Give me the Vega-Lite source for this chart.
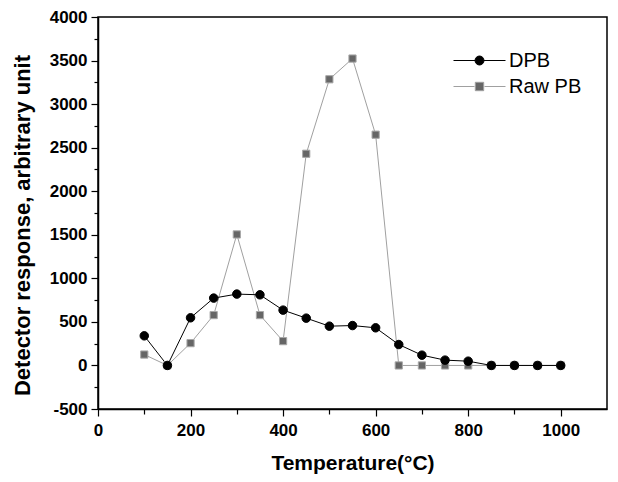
{
  "$schema": "https://vega.github.io/schema/vega-lite/v6.json",
  "width": 509,
  "height": 392,
  "autosize": {"type": "none"},
  "padding": {"left": 98, "top": 17, "right": 11, "bottom": 73},
  "background": "white",
  "config": {
    "view": {"stroke": "black", "strokeWidth": 1.5},
    "font": "Liberation Sans",
    "axis": {
      "domainColor": "black",
      "domainWidth": 1.5,
      "tickColor": "black",
      "tickWidth": 1.2,
      "grid": false,
      "labelFont": "Liberation Sans",
      "labelFontWeight": "bold",
      "labelFontSize": 17,
      "labelColor": "black",
      "titleFont": "Liberation Sans",
      "titleFontWeight": "bold",
      "titleFontSize": 21,
      "titleColor": "black"
    }
  },
  "data": {
    "values": [
      {"t": 100, "v": 125, "s": "Raw PB"},
      {"t": 150, "v": 0, "s": "Raw PB"},
      {"t": 200, "v": 256, "s": "Raw PB"},
      {"t": 250, "v": 578, "s": "Raw PB"},
      {"t": 300, "v": 1504, "s": "Raw PB"},
      {"t": 350, "v": 578, "s": "Raw PB"},
      {"t": 400, "v": 279, "s": "Raw PB"},
      {"t": 450, "v": 2430, "s": "Raw PB"},
      {"t": 500, "v": 3285, "s": "Raw PB"},
      {"t": 550, "v": 3523, "s": "Raw PB"},
      {"t": 600, "v": 2649, "s": "Raw PB"},
      {"t": 650, "v": 0, "s": "Raw PB"},
      {"t": 700, "v": 0, "s": "Raw PB"},
      {"t": 750, "v": 0, "s": "Raw PB"},
      {"t": 800, "v": 0, "s": "Raw PB"},
      {"t": 850, "v": 0, "s": "Raw PB"},
      {"t": 900, "v": 0, "s": "Raw PB"},
      {"t": 950, "v": 0, "s": "Raw PB"},
      {"t": 1000, "v": 0, "s": "Raw PB"},
      {"t": 100, "v": 340, "s": "DPB"},
      {"t": 150, "v": 0, "s": "DPB"},
      {"t": 200, "v": 547, "s": "DPB"},
      {"t": 250, "v": 773, "s": "DPB"},
      {"t": 300, "v": 819, "s": "DPB"},
      {"t": 350, "v": 811, "s": "DPB"},
      {"t": 400, "v": 635, "s": "DPB"},
      {"t": 450, "v": 543, "s": "DPB"},
      {"t": 500, "v": 451, "s": "DPB"},
      {"t": 550, "v": 458, "s": "DPB"},
      {"t": 600, "v": 432, "s": "DPB"},
      {"t": 650, "v": 240, "s": "DPB"},
      {"t": 700, "v": 118, "s": "DPB"},
      {"t": 750, "v": 61, "s": "DPB"},
      {"t": 800, "v": 49, "s": "DPB"},
      {"t": 850, "v": 0, "s": "DPB"},
      {"t": 900, "v": 0, "s": "DPB"},
      {"t": 950, "v": 0, "s": "DPB"},
      {"t": 1000, "v": 0, "s": "DPB"}
    ]
  },
  "encoding": {
    "x": {
      "field": "t",
      "type": "quantitative",
      "scale": {"domain": [0, 1100], "nice": false},
      "axis": {
        "title": "Temperature(°C)",
        "values": [0, 100, 200, 300, 400, 500, 600, 700, 800, 900, 1000],
        "labelExpr": "datum.value % 200 === 0 ? datum.value + '' : ''",
        "tickSize": {"condition": {"test": "datum.value % 200 === 0", "value": 7}, "value": 5},
        "labelPadding": 6,
        "titlePadding": 14,
        "labelFlush": false,
        "labelOverlap": false
      }
    },
    "y": {
      "field": "v",
      "type": "quantitative",
      "scale": {"domain": [-500, 4000], "nice": false, "zero": false},
      "axis": {
        "title": "Detector response, arbitrary unit",
        "titleFontSize": 22,
        "values": [-500, -250, 0, 250, 500, 750, 1000, 1250, 1500, 1750, 2000, 2250, 2500, 2750, 3000, 3250, 3500, 3750, 4000],
        "labelExpr": "datum.value % 500 === 0 ? datum.value + '' : ''",
        "tickSize": {"condition": {"test": "datum.value % 500 === 0", "value": 7}, "value": 4},
        "labelPadding": 4,
        "titlePadding": 15,
        "titleY": 208,
        "labelFlush": false,
        "labelOverlap": false
      }
    }
  },
  "layer": [
    {
      "mark": {"type": "point", "filled": true, "opacity": 0, "strokeWidth": 1},
      "encoding": {
        "shape": {
          "field": "s", "type": "nominal",
          "scale": {"domain": ["DPB", "Raw PB"], "range": [
            "M-2.6,0L-0.45,0M0.45,0L2.6,0M-0.45,0A0.45,0.45,0,1,0,0.45,0A0.45,0.45,0,1,0,-0.45,0Z",
            "M-2.6,0L-0.5,0M0.5,0L2.6,0M-0.42,-0.42L0.42,-0.42L0.42,0.42L-0.42,0.42Z"
          ]},
          "legend": {
            "title": null,
            "orient": "none",
            "legendX": 371,
            "legendY": 33,
            "padding": 0,
            "symbolSize": 400,
            "symbolStrokeWidth": 1,
            "symbolOpacity": 1,
            "labelFontSize": 20,
            "labelFont": "Liberation Sans",
            "labelColor": "black",
            "labelOffset": 19,
            "rowPadding": 5
          }
        },
        "fill": {"field": "s", "type": "nominal", "scale": {"domain": ["DPB", "Raw PB"], "range": ["#000000", "#666666"]}},
        "stroke": {"field": "s", "type": "nominal", "scale": {"domain": ["DPB", "Raw PB"], "range": ["#000000", "#a0a0a0"]}}
      }
    },
    {
      "mark": {"type": "line", "strokeWidth": 1},
      "encoding": {
        "stroke": {"field": "s", "type": "nominal", "scale": {"domain": ["DPB", "Raw PB"], "range": ["#000000", "#a0a0a0"]}},
        "order": {"field": "t", "type": "quantitative"}
      }
    },
    {
      "transform": [{"filter": "datum.s === 'Raw PB'"}],
      "mark": {"type": "point", "filled": true, "opacity": 1, "shape": "square", "size": 52, "fill": "#666666", "stroke": "#a8a8a8", "strokeWidth": 1}
    },
    {
      "transform": [{"filter": "datum.s === 'DPB'"}],
      "mark": {"type": "point", "filled": true, "opacity": 1, "shape": "circle", "size": 72, "fill": "#000000", "stroke": "#000000", "strokeWidth": 1}
    }
  ]
}
